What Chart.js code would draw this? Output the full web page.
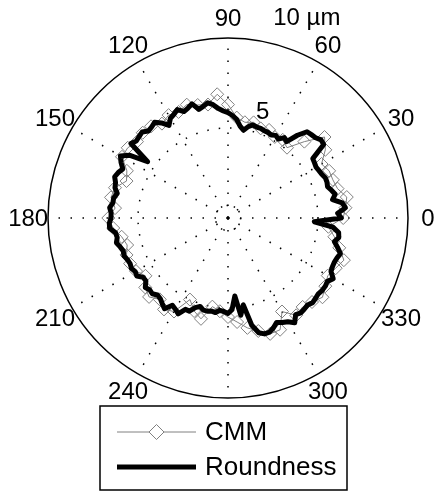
<!DOCTYPE html>
<html>
<head>
<meta charset="utf-8">
<title>CMM vs Roundness</title>
<script src="https://cdn.jsdelivr.net/npm/chart.js@4.4.0/dist/chart.umd.min.js"></script>
<style>
  html, body { margin: 0; padding: 0; background: #fff; }
  #wrap { width: 436px; height: 491px; position: relative; }
</style>
</head>
<body>
<div id="wrap"><canvas id="polarChart"></canvas></div>
<script>
// angles in degrees, counter-clockwise from 0 (east), one every 2.5 deg
const THETA = Array.from({ length: 144 }, (_, i) => i * 2.5);

// roundness tester trace, radius in µm, one value per THETA entry
const ROUNDNESS = [
  6.3, 6.1, 6.55, 6.4, 5.9, 6.1, 5.95, 5.8, 5.85, 5.85,
  5.75, 5.7, 5.65, 5.7, 5.75, 6.7, 6.75, 6.6, 6.55, 6.5,
  6.0, 5.35, 5.45, 5.2, 5.3, 5.2, 5.25, 5.25, 5.3, 5.3,
  5.35, 5.2, 4.95, 5.15, 5.5, 5.7, 5.85, 5.95, 6.1, 6.35,
  6.5, 6.35, 6.25, 6.65, 6.5, 6.4, 6.65, 6.5, 6.4, 6.1,
  6.45, 6.7, 6.6, 6.55, 6.75, 6.7, 6.65, 6.8, 5.45, 6.5,
  6.9, 6.7, 6.45, 6.6, 6.7, 6.55, 6.5, 6.3, 6.45, 6.45,
  6.6, 6.5, 6.5, 6.6, 6.6, 6.3, 6.25, 6.35, 6.2, 6.1,
  6.15, 6.05, 6.0, 6.05, 5.95, 6.0, 5.75, 5.75, 6.0, 5.9,
  5.95, 5.8, 5.85, 6.0, 6.15, 5.75, 5.85, 6.0, 5.6, 5.6,
  5.3, 5.15, 5.3, 5.3, 5.25, 5.3, 5.15, 5.2, 5.3, 5.1,
  4.35, 5.45, 4.9, 6.1, 6.6, 6.75, 6.75, 6.6, 6.4, 6.55,
  6.65, 6.9, 6.55, 6.65, 6.6, 6.55, 6.65, 6.6, 6.55, 6.6,
  6.6, 6.55, 6.75, 6.45, 6.4, 6.4, 6.45, 6.55, 6.3, 6.05,
  6.25, 6.2, 5.85, 4.8
];

// CMM probe points, radius in µm, one every 5 deg (every second THETA entry)
const CMM = [
  6.4, 6.55, 6.7, 6.3, 6.2, 6.2, 6.0, 6.6, 7.0, 6.0,
  5.1, 5.3, 5.2, 5.4, 5.3, 5.5, 5.4, 5.6, 6.3, 6.9,
  6.4, 6.5, 6.7, 6.5, 6.6, 6.4, 6.65, 6.7, 6.6, 6.8,
  6.8, 6.2, 6.0, 6.5, 6.6, 6.3, 6.65, 6.4, 6.0, 5.8,
  6.0, 6.0, 5.9, 5.6, 6.0, 6.2, 5.9, 6.2, 6.0, 5.0,
  5.5, 5.8, 5.0, 5.2, 5.5, 5.8, 6.2, 6.5, 6.85, 6.85,
  6.0, 6.6, 6.45, 6.6, 6.85, 6.6, 6.4, 6.6, 6.85, 6.4,
  6.0, 5.6
];

const ANGLE_TICKS = [0, 30, 60, 90, 120, 150, 180, 210, 240, 270, 300, 330];
const RING_TICKS = [0, 0.7, 5, 10];
const R_MAX = 10;

const FONT = '"Liberation Sans", Arial, Helvetica, sans-serif';
const GREY = '#808080';

// radar draws clockwise from index 0, so walk the angles backwards
const order = [0, ...THETA.map((_, i) => i).slice(1).reverse()];
const labels = order.map(i => THETA[i]);
const roundnessData = order.map(i => ROUNDNESS[i]);
const cmmData = order.map(i => (i % 2 === 0 ? CMM[i / 2] : null));

const polarDecor = {
  id: 'polarDecor',
  afterDraw(chart) {
    const { ctx } = chart;
    const scale = chart.scales.r;
    ctx.save();
    ctx.fillStyle = '#000';
    ctx.textAlign = 'center';
    ctx.textBaseline = 'middle';

    // angle labels just outside the outer ring
    ctx.font = '24px ' + FONT;
    chart.data.labels.forEach((deg, i) => {
      if (!ANGLE_TICKS.includes(deg)) return;
      const p = scale.getPointPositionForValue(i, 11.1);
      ctx.fillText(String(deg), p.x, p.y + 1);
    });

    // ring labels
    const ringText = [
      { text: '5', value: 6.25, angle: 72 },
      { text: '10 µm', value: 12, angle: 68.6 },
    ];
    ringText.forEach(r => {
      const d = scale.getDistanceFromCenterForValue(r.value);
      const a = r.angle * Math.PI / 180;
      ctx.fillText(r.text, scale.xCenter + Math.cos(a) * d, scale.yCenter - Math.sin(a) * d + 1);
    });

    // legend box
    const box = { x: 100, y: 406, w: 247, h: 84 };
    ctx.fillStyle = '#fff';
    ctx.fillRect(box.x, box.y, box.w, box.h);
    ctx.strokeStyle = '#000';
    ctx.lineWidth = 1.5;
    ctx.strokeRect(box.x, box.y, box.w, box.h);

    const rows = [
      { ds: chart.data.datasets[0], y: 432 },
      { ds: chart.data.datasets[1], y: 467 },
    ];
    ctx.textAlign = 'left';
    ctx.font = '26px ' + FONT;
    rows.forEach(row => {
      const ds = row.ds;
      ctx.strokeStyle = ds.borderColor;
      ctx.lineWidth = ds.borderWidth;
      ctx.beginPath();
      ctx.moveTo(117, row.y);
      ctx.lineTo(196, row.y);
      ctx.stroke();
      if (ds.pointRadius) {
        const r = ds.pointRadius + 1;
        const cx = 156.5;
        ctx.fillStyle = '#fff';
        ctx.strokeStyle = ds.pointBorderColor;
        ctx.lineWidth = 1;
        ctx.beginPath();
        ctx.moveTo(cx, row.y - r);
        ctx.lineTo(cx + r, row.y);
        ctx.lineTo(cx, row.y + r);
        ctx.lineTo(cx - r, row.y);
        ctx.closePath();
        ctx.fill();
        ctx.stroke();
      }
      ctx.fillStyle = '#000';
      ctx.fillText(ds.label, 205, row.y + 1);
    });
    ctx.restore();
  }
};

const ctx = document.getElementById('polarChart').getContext('2d');
new Chart(ctx, {
  type: 'radar',
  data: {
    labels: labels,
    datasets: [
      {
        label: 'CMM',
        data: cmmData,
        spanGaps: true,
        fill: false,
        borderColor: GREY,
        borderWidth: 1,
        pointStyle: 'rectRot',
        pointRadius: 6.5,
        pointBorderColor: GREY,
        pointBorderWidth: 1,
        pointBackgroundColor: 'rgba(0,0,0,0)',
        order: 1,
      },
      {
        label: 'Roundness',
        data: roundnessData,
        fill: false,
        borderColor: '#000',
        borderWidth: 5,
        borderJoinStyle: 'round',
        pointRadius: 0,
        order: 0,
      },
    ]
  },
  options: {
    responsive: true,
    maintainAspectRatio: false,
    animation: false,
    layout: { padding: { left: 48, right: 28, top: 38, bottom: 93 } },
    plugins: {
      legend: { display: false },
      tooltip: { enabled: false },
    },
    elements: { line: { tension: 0 } },
    scales: {
      r: {
        min: 0,
        max: R_MAX,
        startAngle: 90,
        afterBuildTicks: scale => {
          scale.ticks = RING_TICKS.map(v => ({ value: v }));
        },
        ticks: { display: false },
        pointLabels: { display: false },
        grid: {
          circular: true,
          color: '#000',
          lineWidth: c => (c.tick && c.tick.value === R_MAX ? 1.5 : 1.5),
        },
        border: {
          dash: c => (c.tick && c.tick.value === R_MAX ? [] : [1.5, 10]),
        },
        angleLines: {
          color: '#000',
          lineWidth: c => (ANGLE_TICKS.includes(labels[c.index]) ? 1.5 : 0),
          borderDash: [1.5, 10.5],
        },
      }
    }
  },
  plugins: [polarDecor]
});
</script>
</body>
</html>
